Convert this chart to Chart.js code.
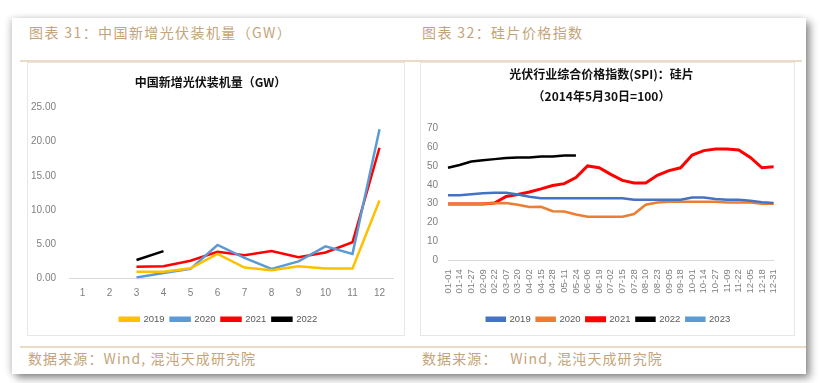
<!DOCTYPE html>
<html lang="zh">
<head>
<meta charset="UTF-8" />
<title>光伏装机与硅片价格</title>
<script src="https://cdn.jsdelivr.net/npm/chart.js@4.4.0/dist/chart.umd.min.js"></script>
<style>
  body { margin: 0; background: #fff; width: 820px; height: 383px; overflow: hidden; font-family: "Noto Sans CJK SC", sans-serif; }
  .card { position: absolute; left: 12px; top: 18px; width: 794px; height: 356px; background: #fff;
          box-shadow: 4px 4px 8px rgba(0,0,0,0.45), -3px 0 6px rgba(0,0,0,0.12); }
  .head { position: absolute; top: 22px; font-size: 14px; color: #c4a47a; letter-spacing: 1.4px; }
  .foot { position: absolute; top: 348px; font-size: 14px; color: #c4a47a; letter-spacing: 1.1px; }
  .rule { position: absolute; height: 2px; background: #eadcc4; }
  .panel { position: absolute; top: 62px; height: 274px; border: 1px solid #e6e6e6; box-sizing: border-box; }
  .panel canvas { position: absolute; left: 0; top: 0; }
</style>
</head>
<body>
<div class="card"></div>
<div class="head" style="left:29px">图表 31：中国新增光伏装机量（GW）</div>
<div class="head" style="left:422px">图表 32：硅片价格指数</div>
<div class="rule" style="left:20px; width:782px; top:60px"></div>
<div class="panel" style="left:27px; width:378px"><canvas id="installChart" width="376" height="272"></canvas></div>
<div class="panel" style="left:420px; width:375px"><canvas id="spiChart" width="373" height="272"></canvas></div>
<div class="rule" style="left:20px; width:786px; top:346px"></div>
<div class="foot" style="left:28px">数据来源：Wind, 混沌天成研究院</div>
<div class="foot" style="left:422px">数据来源：&nbsp;&nbsp;&nbsp;Wind, 混沌天成研究院</div>
<script>
// 图表31：中国新增光伏装机量（GW），按月
const months = ["1", "2", "3", "4", "5", "6", "7", "8", "9", "10", "11", "12"];
const install2019 = [null, null, 1.0, 1.0, 1.5, 3.6, 1.6, 1.2, 1.8, 1.45, 1.45, 11.4];
const install2020 = [null, null, 0.15, 0.8, 1.4, 4.9, 3.0, 1.4, 2.5, 4.7, 3.6, 21.8];
const install2021 = [null, null, 1.7, 1.8, 2.6, 3.9, 3.4, 4.0, 3.1, 3.8, 5.3, 19.1];
const install2022 = [null, null, 2.7, 4.0, null, null, null, null, null, null, null, null];

// 图表32：光伏行业综合价格指数(SPI)：硅片
const dates = ["01-01", "01-14", "01-27", "02-09", "02-22", "03-07", "03-20", "04-02", "04-15", "04-28",
               "05-11", "05-24", "06-06", "06-19", "07-02", "07-15", "07-28", "08-10", "08-23", "09-05",
               "09-18", "10-01", "10-14", "10-27", "11-09", "11-22", "12-05", "12-18", "12-31"];
const spi2019 = [34.5, 34.5, 35.0, 35.5, 35.8, 35.8, 34.8, 33.7, 32.8, 32.8, 32.8, 32.8, 32.8, 32.8, 32.8,
                 32.8, 32.1, 32.1, 32.1, 32.1, 32.1, 33.2, 33.2, 32.5, 32.0, 32.0, 31.5, 30.8, 30.3];
const spi2020 = [30.0, 30.0, 30.0, 30.0, 30.2, 30.3, 29.4, 28.2, 28.3, 26.0, 25.8, 24.2, 23.1, 23.1, 23.1,
                 23.1, 24.5, 29.4, 30.6, 31.0, 31.0, 31.0, 31.0, 31.0, 30.6, 30.6, 30.6, 30.0, 30.0];
const spi2021 = [29.8, 29.8, 29.8, 29.8, 30.3, 33.8, 34.8, 36.2, 37.8, 39.6, 40.6, 43.8, 50.0, 49.0, 45.5,
                 42.3, 41.0, 41.0, 45.0, 47.5, 49.0, 55.8, 58.1, 59.0, 59.0, 58.5, 54.5, 49.0, 49.5];
const spi2022 = [49.0, 50.5, 52.3, 53.0, 53.6, 54.2, 54.4, 54.4, 55.0, 55.0, 55.5, 55.5];
const spi2023 = [];

const tickGray = "#7f7f7f";
const baseFont = "'Liberation Sans', 'Noto Sans CJK SC', sans-serif";

function line(label, data, color, width) {
    return {
        label: label,
        data: data,
        borderColor: color,
        backgroundColor: color,
        borderWidth: width,
        pointRadius: 0,
        tension: 0,
        spanGaps: false,
    };
}

const legendLabels = (boxW) => ({
    boxWidth: boxW,
    boxHeight: 3,
    color: "#595959",
    padding: 6,
    font: { size: 9.5, family: baseFont },
});

// nudge the legend sideways, it sits a bit right of centre in the original
const legendShift = (dx) => ({
    id: "legendShift",
    afterLayout(chart) {
        chart.legend.left += dx;
        chart.legend.right += dx;
    },
});

new Chart(document.getElementById("installChart"), {
    type: "line",
    data: {
        labels: months,
        datasets: [
            line("2019", install2019, "#ffc000", 2.5),
            line("2020", install2020, "#5b9bd5", 2.5),
            line("2021", install2021, "#ff0000", 2.5),
            line("2022", install2022, "#000000", 2.5),
        ],
    },
    plugins: [legendShift(8)],
    options: {
        responsive: false,
        animation: false,
        layout: { padding: { left: 0, right: 11, top: 0, bottom: 1 } },
        plugins: {
            title: {
                display: true,
                text: "中国新增光伏装机量（GW）",
                color: "#111",
                font: { size: 12, weight: "bold", family: "'Noto Sans CJK SC', sans-serif" },
                padding: { top: 12, bottom: 18 },
            },
            legend: { position: "bottom", labels: legendLabels(19) },
            tooltip: { enabled: false },
        },
        scales: {
            x: {
                offset: true,
                grid: { display: false, drawTicks: false },
                border: { color: "#d9d9d9" },
                ticks: { color: tickGray, font: { size: 10, family: baseFont }, padding: 9 },
            },
            y: {
                min: 0,
                max: 25,
                grid: { display: false, drawTicks: false },
                border: { display: false },
                ticks: {
                    stepSize: 5,
                    color: tickGray,
                    padding: 13,
                    font: { size: 10, family: baseFont },
                    callback: (v) => v.toFixed(2),
                },
                afterFit: (s) => { s.width = 41; },
            },
        },
    },
});

new Chart(document.getElementById("spiChart"), {
    type: "line",
    data: {
        labels: dates,
        datasets: [
            line("2019", spi2019, "#4472c4", 2.5),
            line("2020", spi2020, "#ed7d31", 2.5),
            line("2021", spi2021, "#ff0000", 3),
            line("2022", spi2022, "#000000", 2.5),
            line("2023", spi2023, "#5b9bd5", 2.5),
        ],
    },
    plugins: [legendShift(7)],
    options: {
        responsive: false,
        animation: false,
        layout: { padding: { left: 0, right: 12, top: 0, bottom: 1 } },
        plugins: {
            title: {
                display: true,
                text: ["光伏行业综合价格指数(SPI)：硅片", "（2014年5月30日=100）"],
                color: "#111",
                font: { size: 12, weight: "bold", family: "'Noto Sans CJK SC', sans-serif", lineHeight: 1.8 },
                padding: { top: 1, bottom: 21 },
            },
            legend: { position: "bottom", labels: legendLabels(18) },
            tooltip: { enabled: false },
        },
        scales: {
            x: {
                offset: false,
                grid: { display: false, drawTicks: false },
                border: { color: "#d9d9d9" },
                ticks: {
                    color: tickGray,
                    autoSkip: false,
                    minRotation: 90,
                    maxRotation: 90,
                    padding: 9,
                    font: { size: 9.5, family: baseFont },
                },
                afterFit: (s) => { s.height += 6; },
            },
            y: {
                min: 0,
                max: 70,
                grid: { display: false, drawTicks: false },
                border: { display: false },
                ticks: { stepSize: 10, color: tickGray, padding: 10, font: { size: 10, family: baseFont } },
                afterFit: (s) => { s.width = 27; },
            },
        },
    },
});
</script>
</body>
</html>
